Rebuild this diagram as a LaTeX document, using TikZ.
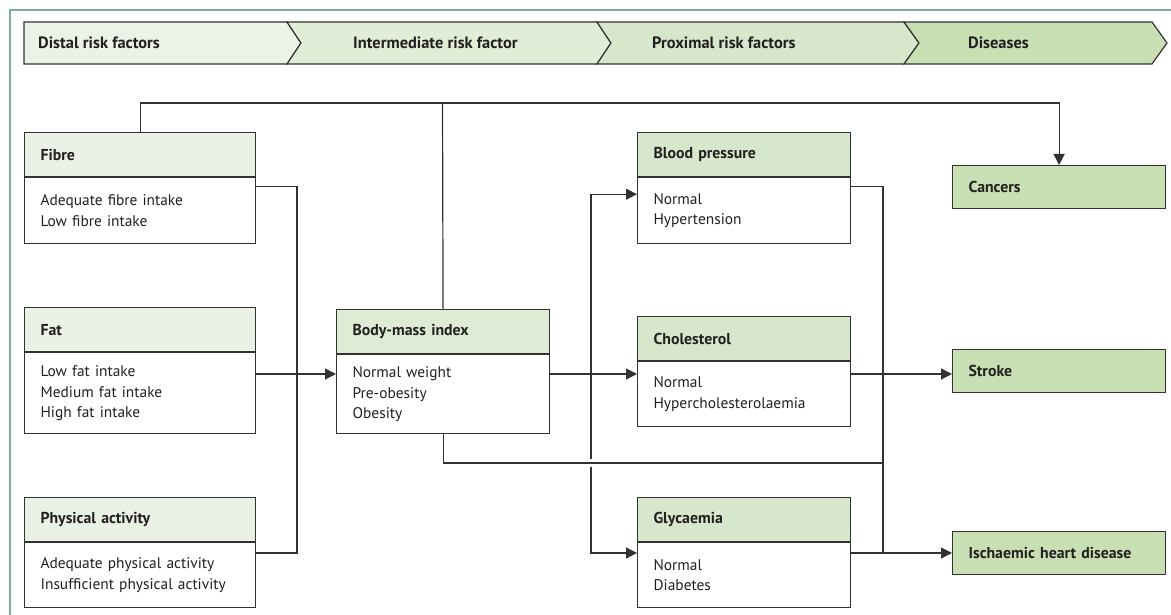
\documentclass[tikz,border=0pt]{standalone}
\usepackage{fontspec}
\setmainfont{PT Sans}
\usetikzlibrary{arrows.meta,positioning}

\definecolor{framec}{RGB}{118,178,150}
\definecolor{linec}{RGB}{50,50,50}
\definecolor{txtc}{RGB}{35,31,32}
\definecolor{bandA}{RGB}{234,243,229}
\definecolor{bandB}{RGB}{224,237,215}
\definecolor{bandC}{RGB}{214,231,203}
\definecolor{bandD}{RGB}{200,223,180}
\definecolor{hdrA}{RGB}{233,242,228}
\definecolor{hdrB}{RGB}{222,235,213}
\definecolor{hdrC}{RGB}{214,231,203}

\tikzset{
  conn/.style={draw=linec, line width=1.2pt},
  arr/.style={conn, -{Triangle[length=11pt,width=11pt]}},
  band/.style={draw=linec, line width=1.2pt, fill=#1},
  btext/.style={font=\bfseries\fontsize{16.4}{18}\selectfont, text=txtc, anchor=west, inner sep=0pt},
  box/.style={draw=linec, line width=1.2pt, anchor=north west, inner xsep=16pt, inner ysep=0pt,
              align=left, text=txtc, font=\fontsize{15.4}{20.5}\selectfont},
  wide/.style={minimum width=231pt, text width=199pt},
  narrow/.style={minimum width=213pt, text width=181pt},
  hdr/.style={box, fill=#1, minimum height=44pt, font=\bfseries\fontsize{15.8}{20.5}\selectfont},
  itembox/.style={box, minimum height=#1},
}

\begin{document}
\begin{tikzpicture}[x=1pt,y=-1pt]
\useasboundingbox (0,0) rectangle (1171,615);

% frame and stage banner
\draw[framec, line width=2pt] (10,615) -- (10,10) -- (1171,10);
\draw[band=bandA] (24,22) -- (287,22) -- (301,43) -- (287,64) -- (24,64) -- cycle;
\draw[band=bandB] (287,22) -- (597,22) -- (611,43) -- (597,64) -- (287,64) -- (301,43) -- cycle;
\draw[band=bandC] (597,22) -- (904,22) -- (919,43) -- (904,64) -- (597,64) -- (611,43) -- cycle;
\draw[band=bandD] (904,22) -- (1152,22) -- (1167,43) -- (1152,64) -- (904,64) -- (919,43) -- cycle;
\node[btext] (distal) at (38,43) {Distal risk factors};
\node[btext] (interm) at (353,43) {Intermediate risk factor};
\node[btext] (proxim) at (652,43) {Proximal risk factors};
\node[btext] (diseas) at (968,43) {Diseases};

% distal risk factors
\node[hdr=hdrA, wide] (fibreh) at (24,132) {Fibre};
\node[itembox=66pt, wide, below=0pt of fibreh] (fibreb) {Adequate fibre intake\\Low fibre intake};
\node[hdr=hdrA, wide] (fath) at (24,307) {Fat};
\node[itembox=81pt, wide, below=0pt of fath] (fatb) {Low fat intake\\Medium fat intake\\High fat intake};
\node[hdr=hdrA, wide] (acth) at (24,497) {Physical activity};
\node[itembox=65pt, wide, below=0pt of acth] (actb) {Adequate physical activity\\Insufficient physical activity};

% intermediate risk factor
\node[hdr=hdrB, narrow] (bmih) at (336,309) {Body-mass index};
\node[itembox=79pt, narrow, below=0pt of bmih] (bmib) {Normal weight\\Pre-obesity\\Obesity};

% proximal risk factors
\node[hdr=hdrC, narrow] (bph) at (637,132) {Blood pressure};
\node[itembox=66pt, narrow, below=0pt of bph] (bpb) {Normal\\Hypertension};
\node[hdr=hdrC, narrow] (cholh) at (637,316) {Cholesterol};
\node[itembox=65pt, narrow, below=0pt of cholh] (cholb) {Normal\\Hypercholesterolaemia};
\node[hdr=hdrC, narrow] (glych) at (637,497) {Glycaemia};
\node[itembox=65pt, narrow, below=0pt of glych] (glycb) {Normal\\Diabetes};

% diseases
\node[hdr=bandD, narrow, minimum height=43pt] (cancers) at (952,165) {Cancers};
\node[hdr=bandD, narrow, minimum height=43pt] (stroke) at (952,349) {Stroke};
\node[hdr=bandD, narrow, minimum height=43pt] (ihd) at (952,531) {Ischaemic heart disease};

% junctions
\coordinate (top) at (442.5,103);
\coordinate (row) at (0,374);
\coordinate (lj) at (297,553);
\coordinate (mj) at (591,374);
\coordinate (rj) at (883,463);
\coordinate (rjb) at (883,553);

% connectors
\draw[arr] (fibreh.north) |- (top) -| (cancers.north);
\draw[conn] (bmih.north) -- (top);
\draw[conn] ([yshift=-9pt]fibreb.north east) -| (lj) -- (actb.east |- lj);
\draw[arr] (fatb.east |- row) -- (bmib.west |- row);
\draw[arr] (bmib.east |- row) -- (cholb.west |- row);
\draw[arr] (mj) |- ([yshift=-17pt]bpb.north west);
\draw[arr] (mj) |- (glycb.west |- rjb);
\draw[conn, preaction={draw=white, line width=8pt}] (bmib.south) |- (rj);
\draw[conn] ([yshift=-9pt]bpb.north east) -| (rjb);
\draw[arr] (cholb.east |- row) -- (stroke.west |- row);
\draw[arr] (glycb.east |- rjb) -- (ihd.west |- rjb);
\end{tikzpicture}
\end{document}
